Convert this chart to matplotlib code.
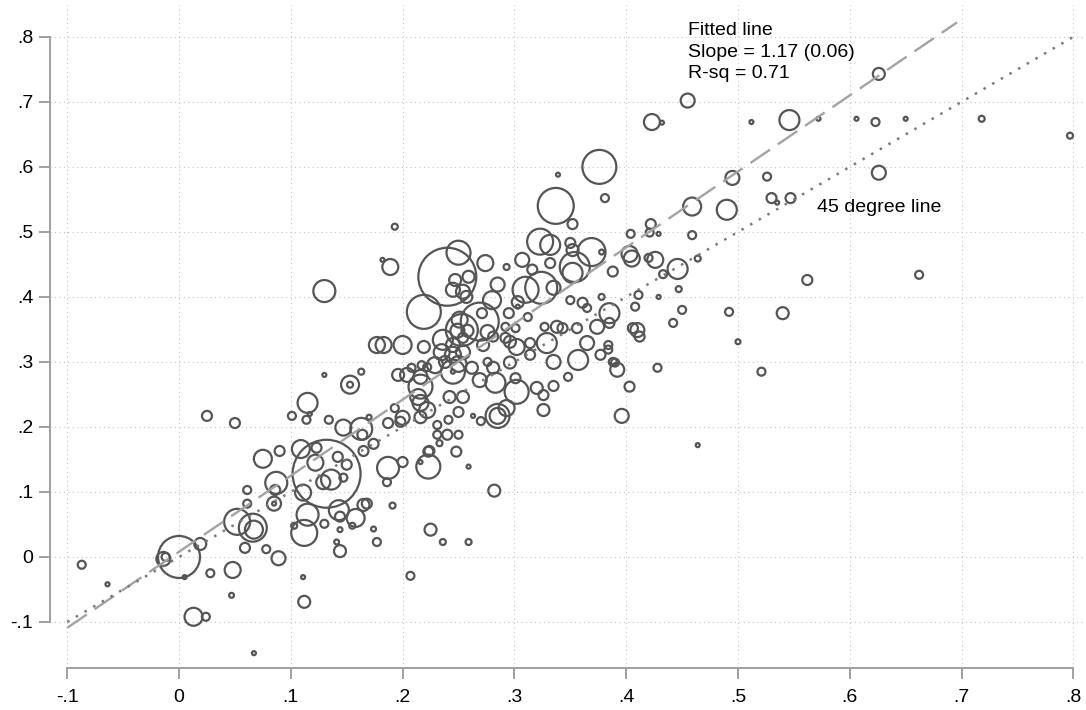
import matplotlib
matplotlib.use('Agg')
import matplotlib.pyplot as plt
import numpy as np

plt.rcParams['font.family'] = ['Liberation Sans', 'DejaVu Sans']

# ---------------- data ----------------
x_vals = [
    -0.087, -0.064, 0.000, -0.014, -0.012, 0.005, 0.019, 0.028, 0.048, 0.047,
    0.013, 0.024, 0.067, 0.052, 0.066, 0.067, 0.059, 0.078, 0.061, 0.061,
    0.075, 0.087, 0.085, 0.085, 0.086, 0.025, 0.050, 0.090, 0.115, 0.101,
    0.114, 0.117, 0.134, 0.153, 0.153, 0.147, 0.163, 0.164, 0.170, 0.165,
    0.174, 0.109, 0.123, 0.132, 0.122, 0.142, 0.150, 0.136, 0.129, 0.147,
    0.111, 0.115, 0.112, 0.103, 0.130, 0.143, 0.144, 0.158, 0.155, 0.165,
    0.168, 0.144, 0.174, 0.141, 0.177, 0.144, 0.089, 0.111, 0.112, 0.191,
    0.225, 0.207, 0.187, 0.186, 0.200, 0.223, 0.223, 0.216, 0.231, 0.231,
    0.198, 0.187, 0.189, 0.182, 0.130, 0.177, 0.183, 0.200, 0.219, 0.240,
    0.219, 0.130, 0.163, 0.200, 0.193, 0.196, 0.204, 0.208, 0.217, 0.216,
    0.216, 0.222, 0.216, 0.229, 0.193, 0.250, 0.274, 0.247, 0.259, 0.245,
    0.254, 0.257, 0.280, 0.253, 0.269, 0.251, 0.249, 0.258, 0.276, 0.236,
    0.245, 0.254, 0.272, 0.281, 0.235, 0.245, 0.254, 0.238, 0.250, 0.262,
    0.245, 0.245, 0.216, 0.222, 0.281, 0.269, 0.283, 0.276, 0.242, 0.254,
    0.214, 0.337, 0.352, 0.381, 0.404, 0.323, 0.332, 0.350, 0.352, 0.369,
    0.378, 0.354, 0.352, 0.388, 0.403, 0.405, 0.332, 0.307, 0.316, 0.293,
    0.285, 0.310, 0.324, 0.335, 0.303, 0.303, 0.295, 0.312, 0.350, 0.361,
    0.365, 0.378, 0.385, 0.385, 0.374, 0.408, 0.406, 0.327, 0.338, 0.343,
    0.356, 0.365, 0.384, 0.384, 0.377, 0.388, 0.392, 0.357, 0.348, 0.403,
    0.329, 0.335, 0.314, 0.314, 0.302, 0.296, 0.296, 0.292, 0.301, 0.271,
    0.292, 0.302, 0.320, 0.326, 0.335, 0.301, 0.250, 0.263, 0.270, 0.241,
    0.285, 0.285, 0.293, 0.326, 0.396, 0.240, 0.233, 0.250, 0.224, 0.248,
    0.259, 0.282, 0.236, 0.259, 0.339, 0.376, 0.626, 0.455, 0.423, 0.432,
    0.512, 0.546, 0.572, 0.606, 0.623, 0.650, 0.718, 0.797, 0.495, 0.526,
    0.626, 0.459, 0.490, 0.530, 0.547, 0.535, 0.422, 0.421, 0.429, 0.459,
    0.426, 0.420, 0.446, 0.464, 0.433, 0.447, 0.411, 0.429, 0.450, 0.442,
    0.492, 0.540, 0.562, 0.662, 0.410, 0.412, 0.500, 0.390, 0.428, 0.521,
    0.464,
]

y_vals = [
    -0.012, -0.042, 0.000, -0.003, 0.000, -0.031, 0.020, -0.025, -0.020, -0.059,
    -0.092, -0.092, -0.148, 0.054, 0.045, 0.042, 0.014, 0.012, 0.103, 0.082,
    0.151, 0.114, 0.082, 0.082, 0.103, 0.217, 0.206, 0.163, 0.237, 0.217,
    0.211, 0.220, 0.211, 0.265, 0.265, 0.199, 0.197, 0.188, 0.215, 0.163,
    0.174, 0.166, 0.168, 0.128, 0.145, 0.154, 0.142, 0.119, 0.115, 0.122,
    0.099, 0.065, 0.037, 0.048, 0.051, 0.072, 0.062, 0.060, 0.048, 0.080,
    0.082, 0.042, 0.043, 0.023, 0.023, 0.009, -0.002, -0.031, -0.069, 0.079,
    0.042, -0.029, 0.137, 0.115, 0.146, 0.139, 0.162, 0.146, 0.188, 0.203,
    0.208, 0.206, 0.446, 0.457, 0.409, 0.326, 0.326, 0.326, 0.323, 0.431,
    0.377, 0.280, 0.285, 0.214, 0.229, 0.280, 0.280, 0.291, 0.295, 0.262,
    0.237, 0.226, 0.215, 0.295, 0.508, 0.468, 0.452, 0.426, 0.431, 0.411,
    0.408, 0.400, 0.395, 0.349, 0.362, 0.365, 0.348, 0.348, 0.346, 0.334,
    0.326, 0.337, 0.326, 0.339, 0.315, 0.311, 0.315, 0.300, 0.297, 0.291,
    0.285, 0.285, 0.277, 0.292, 0.291, 0.272, 0.268, 0.300, 0.246, 0.246,
    0.246, 0.540, 0.512, 0.552, 0.497, 0.485, 0.480, 0.483, 0.472, 0.469,
    0.469, 0.446, 0.437, 0.439, 0.466, 0.459, 0.452, 0.457, 0.442, 0.446,
    0.419, 0.411, 0.414, 0.414, 0.392, 0.385, 0.375, 0.369, 0.395, 0.391,
    0.383, 0.400, 0.375, 0.360, 0.354, 0.385, 0.352, 0.354, 0.354, 0.352,
    0.352, 0.329, 0.326, 0.319, 0.311, 0.300, 0.288, 0.303, 0.277, 0.262,
    0.329, 0.300, 0.329, 0.311, 0.323, 0.331, 0.299, 0.354, 0.352, 0.375,
    0.337, 0.254, 0.260, 0.249, 0.263, 0.275, 0.223, 0.217, 0.209, 0.211,
    0.217, 0.217, 0.229, 0.226, 0.217, 0.188, 0.175, 0.188, 0.163, 0.162,
    0.139, 0.102, 0.023, 0.023, 0.588, 0.600, 0.743, 0.702, 0.669, 0.668,
    0.669, 0.672, 0.674, 0.674, 0.669, 0.674, 0.674, 0.648, 0.583, 0.585,
    0.591, 0.539, 0.534, 0.552, 0.552, 0.545, 0.512, 0.499, 0.497, 0.495,
    0.457, 0.460, 0.443, 0.459, 0.435, 0.412, 0.403, 0.400, 0.380, 0.360,
    0.377, 0.375, 0.426, 0.434, 0.349, 0.339, 0.331, 0.299, 0.291, 0.285,
    0.172,
]

weights = [
    16, 4, 441, 49, 16, 4, 36, 16, 64, 6,
    81, 16, 4, 169, 196, 81, 25, 16, 16, 16,
    81, 121, 49, 4, 25, 25, 25, 25, 100, 16,
    16, 4, 16, 81, 9, 64, 121, 25, 6, 25,
    25, 81, 25, 1156, 64, 25, 25, 100, 49, 16,
    64, 121, 169, 9, 16, 100, 25, 81, 9, 36,
    25, 6, 6, 6, 16, 36, 49, 4, 36, 9,
    36, 16, 121, 16, 25, 144, 25, 4, 16, 16,
    25, 25, 64, 4, 121, 64, 64, 81, 36, 841,
    289, 4, 9, 49, 16, 36, 49, 16, 16, 144,
    64, 64, 36, 64, 9, 144, 64, 36, 36, 49,
    49, 36, 81, 256, 361, 64, 49, 36, 49, 100,
    49, 25, 36, 25, 64, 64, 49, 36, 64, 36,
    144, 4, 49, 16, 36, 49, 100, 16, 36, 36,
    64, 324, 25, 16, 16, 169, 100, 25, 36, 196,
    6, 225, 100, 25, 64, 64, 25, 49, 25, 9,
    49, 169, 256, 49, 36, 4, 25, 16, 16, 25,
    16, 9, 100, 25, 49, 16, 25, 16, 36, 25,
    25, 49, 16, 16, 25, 16, 49, 100, 16, 25,
    100, 49, 25, 25, 64, 36, 36, 16, 16, 25,
    25, 144, 36, 25, 25, 25, 25, 4, 16, 16,
    144, 64, 64, 36, 49, 25, 9, 16, 25, 25,
    4, 36, 9, 9, 4, 289, 36, 49, 64, 4,
    4, 100, 4, 4, 16, 4, 9, 9, 49, 16,
    49, 81, 100, 25, 25, 4, 25, 16, 4, 16,
    64, 16, 100, 9, 16, 9, 16, 4, 16, 16,
    16, 36, 25, 16, 49, 25, 6, 16, 16, 16,
    4,
]

fit_intercept = 0.008
fit_slope = 1.17
fit_range = [-0.1, 0.696]
diag_range = [-0.1, 0.8]

tick_vals = [-0.1, 0.0, 0.1, 0.2, 0.3, 0.4, 0.5, 0.6, 0.7, 0.8]
tick_labels = ['-.1', '0', '.1', '.2', '.3', '.4', '.5', '.6', '.7', '.8']

fit_text = ['Fitted line', 'Slope = 1.17 (0.06)', 'R-sq = 0.71']
diag_text = '45 degree line'

# ---------------- figure ----------------
n = min(len(x_vals), len(y_vals), len(weights))
xs = np.array(x_vals[:n])
ys = np.array(y_vals[:n])
ws = np.array(weights[:n], dtype=float)

fig = plt.figure(figsize=(10.86, 7.10), dpi=100)
ax = fig.add_axes([50 / 1086, 42 / 710, 1035 / 1086, 663 / 710])
ax.set_xlim(-0.1154, 0.8104)
ax.set_ylim(-0.1708, 0.849)

ax.set_xticks(tick_vals)
ax.set_xticklabels(tick_labels)
ax.set_yticks(tick_vals)
ax.set_yticklabels(tick_labels)

ax.grid(True, color='#c4c4c4', linestyle=(0, (1, 3)), linewidth=0.8, zorder=0)
ax.set_axisbelow(True)

for side in ['top', 'right']:
    ax.spines[side].set_visible(False)
for side in ['left', 'bottom']:
    ax.spines[side].set_color('#a0a0a0')
    ax.spines[side].set_linewidth(1.4)
    ax.spines[side].set_bounds(-0.1, 0.8)

ax.tick_params(axis='both', length=8, width=1.4, color='#a0a0a0',
               labelsize=14, labelcolor='black')
ax.tick_params(axis='x', pad=7)
ax.tick_params(axis='y', pad=4)

ax.scatter(xs, ys, s=ws * 2.07, facecolors='none', edgecolors='#555555',
           linewidths=1.6, zorder=3)

xf = np.array(fit_range)
ax.plot(xf, fit_intercept + fit_slope * xf, color='#a3a3a3', lw=1.7,
        linestyle=(0, (10, 4)), zorder=4, solid_capstyle='butt')
ax.plot(diag_range, diag_range, color='#7a7a7a', lw=1.8,
        linestyle=(0, (1, 3)), zorder=4)

for i, t in enumerate(fit_text):
    ax.text(0.4553, 0.803 - i * 0.0333, t, fontsize=14, ha='left',
            va='baseline', color='black')
ax.text(0.571, 0.531, diag_text, fontsize=14, ha='left', va='baseline',
        color='black')

fig.savefig('out.png', dpi=100)
